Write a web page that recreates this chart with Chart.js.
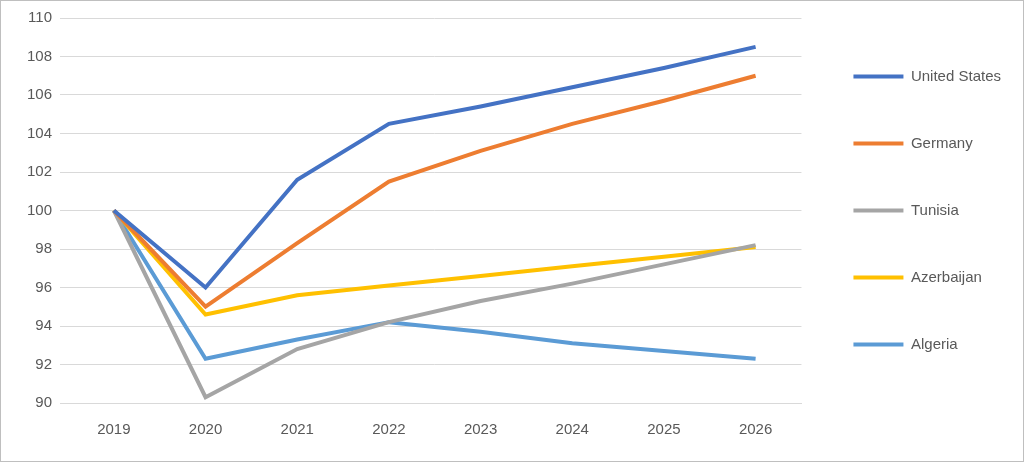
<!DOCTYPE html>
<html>
<head>
<meta charset="utf-8">
<script src="https://cdn.jsdelivr.net/npm/chart.js@4"></script>
<style>
  html, body { margin: 0; padding: 0; background: #fff; }
  #wrap { width: 1022px; height: 460px; border: 1px solid #bfbfbf; }
</style>
</head>
<body>
<div id="wrap"><canvas id="chart" width="1022" height="460"></canvas></div>
<script>
const years = ["2019", "2020", "2021", "2022", "2023", "2024", "2025", "2026"];
const unitedStates = [100, 96, 101.6, 104.5, 105.4, 106.4, 107.4, 108.5];
const germany = [100, 95, 98.3, 101.5, 103.1, 104.5, 105.7, 107];
const tunisia = [100, 90.3, 92.8, 94.2, 95.3, 96.2, 97.2, 98.2];
const azerbaijan = [100, 94.6, 95.6, 96.1, 96.6, 97.1, 97.6, 98.1];
const algeria = [100, 92.3, 93.3, 94.2, 93.7, 93.1, 92.7, 92.3];

function series(label, data, color) {
  return { label, data, borderColor: color, backgroundColor: color,
    borderWidth: 4, pointRadius: 0, tension: 0, fill: false };
}

new Chart(document.getElementById("chart"), {
  type: "line",
  data: {
    labels: years,
    datasets: [
      series("United States", unitedStates, "#4472C4"),
      series("Germany", germany, "#ED7D31"),
      series("Tunisia", tunisia, "#A5A5A5"),
      series("Azerbaijan", azerbaijan, "#FFC000"),
      series("Algeria", algeria, "#5B9BD5"),
    ],
  },
  options: {
    responsive: false,
    animation: false,
    layout: { padding: { top: 16, right: 12, bottom: 12, left: 18 } },
    scales: {
      x: {
        offset: true,
        grid: { display: false },
        border: { color: "#d9d9d9" },
        ticks: { color: "#595959", padding: 10, font: { family: "Liberation Sans", size: 15 } },
      },
      y: {
        min: 90, max: 110,
        ticks: { stepSize: 2, color: "#595959", padding: 8, font: { family: "Liberation Sans", size: 15 } },
        grid: { color: "#d9d9d9" },
        border: { display: false },
      },
    },
    plugins: {
      legend: {
        position: "right",
        align: "start",
        labels: {
          usePointStyle: true,
          pointStyle: "line",
          pointStyleWidth: 50,
          padding: 52,
          color: "#595959",
          font: { family: "Liberation Sans", size: 15 },
        },
      },
      tooltip: { enabled: false },
    },
  },
});
</script>
</body>
</html>
